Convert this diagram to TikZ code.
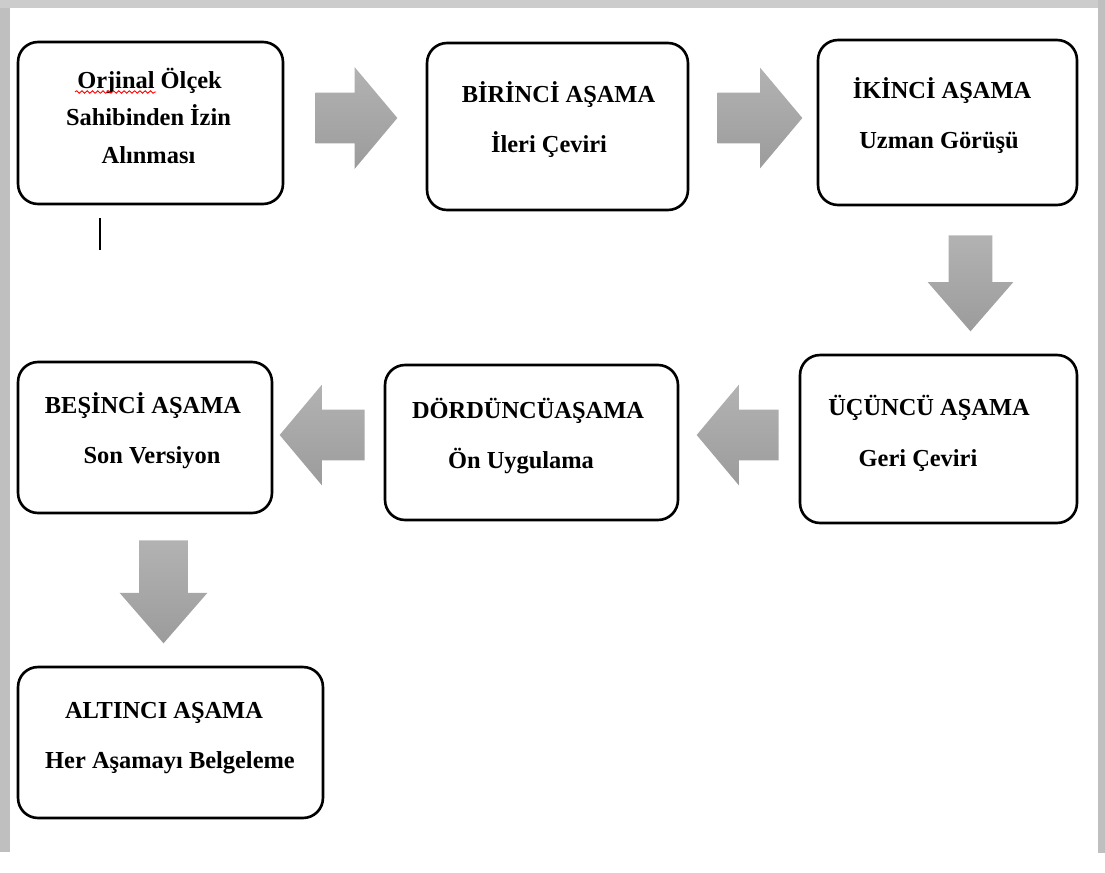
\documentclass[tikz,border=0pt]{standalone}
\usepackage{fontspec}
\setmainfont{Liberation Serif}
\usetikzlibrary{shapes,arrows,positioning,decorations.pathmorphing}

\begin{document}
\begin{tikzpicture}[x=0.02cm,y=-0.02cm,
    stage/.style={draw=black,line width=1.5pt,rounded corners=0.4cm,fill=white},
    txt/.style={anchor=base,inner sep=0pt,font=\fontsize{13.9}{16}\selectfont\bfseries},
    blockarrow/.style={single arrow,draw=none,anchor=tail,inner xsep=0pt,inner ysep=0.5cm,top color=gray!60,bottom color=gray!78,
        single arrow tip angle=100,single arrow head extend=0.5cm}]
    \useasboundingbox (0,0) rectangle (1105,872);
    % page edges
    \fill[gray!50] (0,0) rectangle (10,852);
    \fill[gray!40] (0,0) rectangle (1105,8);
    \fill[gray!50] (1098,0) rectangle (1105,853);
    %%%%%%%%%
    \node[stage,minimum width=5.30cm,minimum height=3.24cm] (s0) at (150.5,123) {};
    \node[txt] (s0a) at (149.5,88) {Orjinal Ölçek};
    \node[txt] (s0b) at (148.5,125) {Sahibinden İzin};
    \node[txt] (s0c) at (148.5,163) {Alınması};
    \node[stage,minimum width=5.22cm,minimum height=3.34cm] (s1) at (557.5,126.5) {};
    \node[txt] (s1a) at (558.5,102) {BİRİNCİ AŞAMA};
    \node[txt] (s1b) at (549,152) {İleri Çeviri};
    \node[stage,minimum width=5.18cm,minimum height=3.30cm] (s2) at (947.5,122.5) {};
    \node[txt] (s2a) at (942,98) {İKİNCİ AŞAMA};
    \node[txt] (s2b) at (939,148) {Uzman Görüşü};
    %%%%%%%%%
    \node[stage,minimum width=5.54cm,minimum height=3.36cm] (s3) at (938.5,439) {};
    \node[txt] (s3a) at (929,415) {ÜÇÜNCÜ AŞAMA};
    \node[txt] (s3b) at (918,466) {Geri Çeviri};
    \node[stage,minimum width=5.86cm,minimum height=3.10cm] (s4) at (531.5,442.5) {};
    \node[txt] (s4a) at (528,418) {DÖRDÜNCÜAŞAMA};
    \node[txt] (s4b) at (521,468) {Ön Uygulama};
    \node[stage,minimum width=5.08cm,minimum height=3.02cm] (s5) at (145,437.5) {};
    \node[txt] (s5a) at (143,413) {BEŞİNCİ AŞAMA};
    \node[txt] (s5b) at (152,463) {Son Versiyon};
    \node[stage,minimum width=6.10cm,minimum height=3.02cm] (s6) at (170.5,742.5) {};
    \node[txt] (s6a) at (164,718) {ALTINCI AŞAMA};
    \node[txt] (s6b) at (170,768) {Her Aşamayı Belgeleme};
    %%%%%%%%%
    \node[blockarrow,minimum height=1.64cm,single arrow head extend=0.51cm] (a1) at (315,118) {};
    \node[blockarrow,minimum height=1.70cm] (a2) at (717,118) {};
    \node[blockarrow,rotate=-90,minimum height=1.92cm,inner ysep=0.43cm,
        single arrow head extend=0.42cm,single arrow tip angle=82] (a3) at (970.5,235) {};
    \node[blockarrow,rotate=180,minimum height=1.64cm] (a4) at (779,435) {};
    \node[blockarrow,rotate=180,minimum height=1.70cm] (a5) at (365,435) {};
    \node[blockarrow,rotate=-90,minimum height=2.06cm,inner ysep=0.48cm,
        single arrow head extend=0.39cm,single arrow tip angle=82] (a6) at (163.5,540) {};
    %%%%%%%%%
    \coordinate (sq1) at (75,92);
    \coordinate (sq2) at (156,92);
    \draw[red,line width=0.5pt,decorate,decoration={snake,amplitude=0.7pt,segment length=3pt}] (sq1) -- (sq2);
    \coordinate (cur1) at (100,218);
    \coordinate (cur2) at (100,250);
    \draw[line width=0.8pt] (cur1) -- (cur2);
\end{tikzpicture}
\end{document}
